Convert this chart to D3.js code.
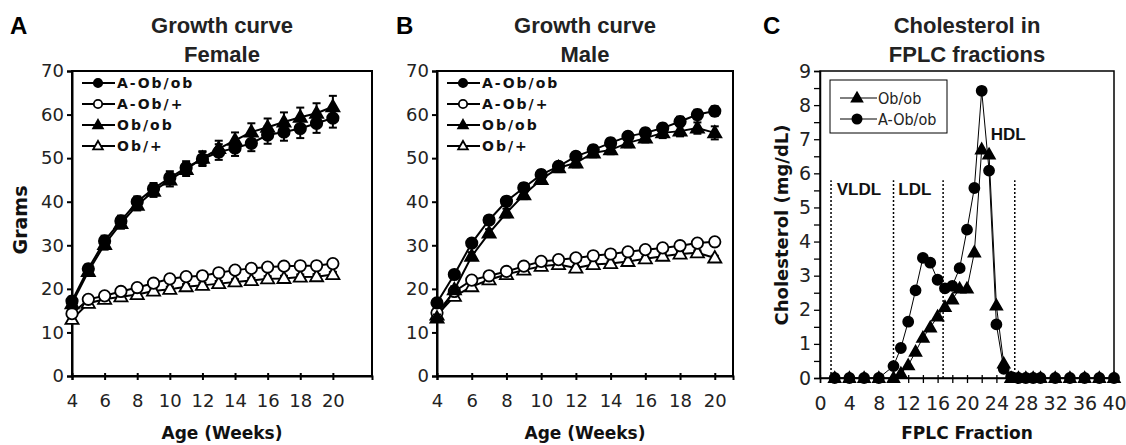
<!DOCTYPE html>
<html><head><meta charset="utf-8">
<script src="https://cdn.jsdelivr.net/npm/d3@7"></script>
<style>body{margin:0;background:#fff}svg{display:block}</style>
</head><body><svg id="c" width="1126" height="445"></svg>
<script>
// ---------- DATA ----------
const weeks = [4,5,6,7,8,9,10,11,12,13,14,15,16,17,18,19,20];
const weekTicks = [4,6,8,10,12,14,16,18,20];
const gramTicks = [0,10,20,30,40,50,60,70];
const growthSeries = ["A-Ob/ob","A-Ob/+","Ob/ob","Ob/+"];

// Female (panel A)
const femaleAObob = [17.2,24.6,31.0,35.6,40.0,43.0,45.5,47.8,49.8,51.4,52.3,53.4,55.3,56.0,56.8,58.0,59.2];
const femaleAObobErr = [1.0,1.0,1.2,1.2,1.2,1.3,1.5,1.5,1.6,1.8,1.8,1.8,2.0,2.0,2.2,2.2,2.2];
const femaleAObp = [14.3,17.6,18.4,19.4,20.3,21.3,22.3,22.8,23.0,23.7,24.3,24.7,25.0,25.2,25.3,25.3,25.8];
const femaleAObpErr = [0.6,0.6,0.6,0.6,0.6,0.6,0.7,0.7,0.7,0.7,0.7,0.7,0.7,0.7,0.7,0.7,0.7];
const femaleObob = [16.6,24.0,30.2,35.0,39.2,42.4,45.0,47.4,50.0,52.2,54.1,56.0,57.1,58.3,59.4,60.3,61.8];
const femaleObobErr = [1.0,1.0,1.2,1.2,1.2,1.3,1.5,1.5,1.6,1.8,1.8,2.0,2.0,2.2,2.2,2.3,2.5];
const femaleObp = [13.0,16.7,17.6,18.2,18.7,19.5,19.9,20.5,20.8,21.2,21.6,21.9,22.3,22.4,22.7,22.8,23.3];
const femaleObpErr = [0.6,0.6,0.6,0.6,0.6,0.6,0.6,0.6,0.6,0.6,0.6,0.6,0.6,0.6,0.6,0.6,0.6];

// Male (panel B)
const maleAObob = [16.8,23.3,30.5,35.8,40.1,43.2,46.2,48.1,50.4,51.9,53.5,55.0,55.8,56.9,58.4,60.0,60.8];
const maleAObobErr = [0.8,0.8,0.9,0.9,1.0,1.0,1.0,1.0,1.0,1.0,1.0,1.0,1.0,1.0,1.1,1.1,1.1];
const maleAObp = [14.5,19.4,22.0,23.0,24.0,25.2,26.3,26.7,27.1,27.6,28.0,28.5,29.0,29.4,29.9,30.5,30.8];
const maleAObpErr = [0.5,0.5,0.5,0.5,0.5,0.5,0.5,0.5,0.5,0.5,0.5,0.5,0.5,0.5,0.5,0.5,0.5];
const maleObob = [13.3,19.8,27.5,32.8,37.4,41.6,45.1,47.8,48.9,51.2,51.9,53.5,54.6,55.8,56.2,56.9,55.8];
const maleObobErr = [0.8,0.8,0.9,0.9,1.0,1.0,1.0,1.0,1.0,1.0,1.0,1.0,1.0,1.2,1.2,1.3,1.5];
const maleObp = [14.0,18.3,20.5,22.1,23.3,24.3,25.2,25.6,24.8,25.6,25.8,26.3,26.9,27.5,28.0,28.3,27.1];
const maleObpErr = [0.5,0.5,0.5,0.5,0.5,0.5,0.5,0.5,0.5,0.5,0.5,0.5,0.5,0.5,0.5,0.5,0.5];

// Cholesterol in FPLC fractions (panel C)
const fractions = [2,4,6,8,10,11,12,13,14,15,16,17,18,19,20,21,22,23,24,25,26,27,28,29,30,32,34,36,38,40];
const cholObob  = [0,0,0,0,0,0.13,0.37,0.77,1.18,1.48,1.80,2.08,2.30,2.62,2.62,3.68,6.70,6.55,2.12,0.42,0,0,0,0,0,0,0,0,0,0];
const cholAObob = [0,0,0,0,0.35,0.88,1.65,2.57,3.52,3.38,2.88,2.63,2.70,3.22,4.35,5.57,8.42,6.08,1.57,0.27,0.03,0,0,0,0,0,0,0,0,0];
const fractionTicks = [0,2,4,6,8,10,12,14,16,18,20,22,24,26,28,30,32,34,36,38,40];
const cholTicks = [0,0.5,1,1.5,2,2.5,3,3.5,4,4.5,5,5.5,6,6.5,7,7.5,8,8.5,9];
const dividers = [1.5,10,16.75,26.5];
const regionLabels = ["VLDL","LDL","HDL"];
const regionX = [5.3,12.9,25.6];
const regionY = [5.36,5.36,6.98];

// ---------- DRAW ----------
const svg = d3.select("#c");
const TICKFONT = "DejaVu Sans, Verdana, sans-serif";
const TITLEFONT = "Liberation Sans, Arial, sans-serif";

function marker(g, type, x, y, size) {
  if (type === "circle" || type === "ocircle") {
    g.append("circle").attr("cx", x).attr("cy", y).attr("r", size)
      .attr("fill", type === "circle" ? "#000" : "#fff").attr("stroke", "#000").attr("stroke-width", 1.8);
  } else {
    const s = size * 1.15, h = s * 1.75;
    const p = `M${x},${y - h*0.6}L${x + s},${y + h*0.4}L${x - s},${y + h*0.4}Z`;
    g.append("path").attr("d", p)
      .attr("fill", type === "tri" ? "#000" : "#fff").attr("stroke", "#000").attr("stroke-width", 1.8);
  }
}

function growthPanel(opt) {
  const g = svg.append("g");
  const x = d3.scaleLinear().domain(opt.xDomain).range([opt.left, opt.right]);
  const y = d3.scaleLinear().domain([0, 70]).range([opt.bottom, opt.top]);

  g.append("rect").attr("x", opt.left).attr("y", opt.top)
    .attr("width", opt.right - opt.left).attr("height", opt.bottom - opt.top)
    .attr("fill", "none").attr("stroke", "#000").attr("stroke-width", 2);

  const ya = g.append("g").attr("transform", `translate(${opt.left},0)`)
    .call(d3.axisLeft(y).tickValues(gramTicks).tickSize(5).tickPadding(3));
  const xa = g.append("g").attr("transform", `translate(0,${opt.bottom})`)
    .call(d3.axisBottom(x).tickValues(weekTicks).tickSize(4).tickPadding(14));
  [ya, xa].forEach(a => {
    a.select(".domain").attr("stroke-width", 2);
    a.selectAll(".tick line").attr("stroke-width", 2);
    a.selectAll("text").attr("font-family", TICKFONT).attr("font-size", 18).attr("fill", "#222");
  });
  xa.selectAll(".tick line").attr("y1", -3);

  const series = [
    {vals: opt.obp, err: opt.obpErr, type: "otri"},
    {vals: opt.aobp, err: opt.aobpErr, type: "ocircle"},
    {vals: opt.obob, err: opt.obobErr, type: "tri"},
    {vals: opt.aobob, err: opt.aobobErr, type: "circle"}
  ];
  const line = d3.line().x((d, i) => x(weeks[i])).y(d => y(d));
  series.forEach(s => {
    g.append("path").attr("d", line(s.vals)).attr("fill", "none")
      .attr("stroke", "#000").attr("stroke-width", 2);
  });
  series.forEach(s => {
    s.vals.forEach((v, i) => {
      const cx = x(weeks[i]);
      const e = s.err[i];
      g.append("line").attr("x1", cx).attr("x2", cx).attr("y1", y(v - e)).attr("y2", y(v + e))
        .attr("stroke", "#000").attr("stroke-width", 2);
      [v - e, v + e].forEach(c => g.append("line").attr("x1", cx - 4).attr("x2", cx + 4)
        .attr("y1", y(c)).attr("y2", y(c)).attr("stroke", "#000").attr("stroke-width", 2));
    });
    s.vals.forEach((v, i) => marker(g, s.type, x(weeks[i]), y(v), 5.7));
  });

  const legTypes = ["circle", "ocircle", "tri", "otri"];
  const legY = [83, 104, 125, 146];
  growthSeries.forEach((name, i) => {
    const ly = legY[i];
    g.append("line").attr("x1", opt.left + 10).attr("x2", opt.left + 43)
      .attr("y1", ly).attr("y2", ly).attr("stroke", "#000").attr("stroke-width", 2);
    marker(g, legTypes[i], opt.left + 26, ly, 4.2);
    g.append("text").attr("x", opt.left + 45).attr("y", ly + 5).text(name)
      .attr("font-family", TICKFONT).attr("font-weight", "bold").attr("font-size", 14)
      .attr("letter-spacing", 2).attr("fill", "#111");
  });

  const cx = (opt.left + opt.right) / 2;
  g.append("text").attr("x", opt.letterX).attr("y", 34).text(opt.letter)
    .attr("font-family", TITLEFONT).attr("font-weight", "bold").attr("font-size", 24);
  g.append("text").attr("x", cx).attr("y", 33).attr("text-anchor", "middle").text("Growth curve")
    .attr("font-family", TITLEFONT).attr("font-weight", "bold").attr("font-size", 22).attr("fill", "#222");
  g.append("text").attr("x", cx).attr("y", 62).attr("text-anchor", "middle").text(opt.sub)
    .attr("font-family", TITLEFONT).attr("font-weight", "bold").attr("font-size", 22).attr("fill", "#222");
  g.append("text").attr("x", cx).attr("y", 439).attr("text-anchor", "middle").text("Age (Weeks)")
    .attr("font-family", TICKFONT).attr("font-weight", "bold").attr("font-size", 17).attr("fill", "#111");
  if (opt.yLabel) {
    g.append("text").attr("transform", `translate(27,220) rotate(-90)`).attr("text-anchor", "middle")
      .text(opt.yLabel).attr("font-family", TICKFONT).attr("font-weight", "bold").attr("font-size", 19).attr("fill", "#111");
  }
}

growthPanel({left: 72, right: 372, top: 71, bottom: 376, xDomain: [4, 22.4],
  aobob: femaleAObob, aobobErr: femaleAObobErr, aobp: femaleAObp, aobpErr: femaleAObpErr,
  obob: femaleObob, obobErr: femaleObobErr, obp: femaleObp, obpErr: femaleObpErr,
  letter: "A", letterX: 10, sub: "Female", yLabel: "Grams"});
growthPanel({left: 437, right: 733, top: 71, bottom: 376, xDomain: [4, 21.05],
  aobob: maleAObob, aobobErr: maleAObobErr, aobp: maleAObp, aobpErr: maleAObpErr,
  obob: maleObob, obobErr: maleObobErr, obp: maleObp, obpErr: maleObpErr,
  letter: "B", letterX: 396, sub: "Male", yLabel: null});

// Panel C
(function() {
  const left = 820, right = 1114, top = 71, bottom = 378;
  const g = svg.append("g");
  const x = d3.scaleLinear().domain([0, 40]).range([left, right]);
  const y = d3.scaleLinear().domain([0, 9]).range([bottom, top]);
  g.append("rect").attr("x", left).attr("y", top).attr("width", right - left).attr("height", bottom - top)
    .attr("fill", "none").attr("stroke", "#000").attr("stroke-width", 1.5);
  const ya = g.append("g").attr("transform", `translate(${left},0)`)
    .call(d3.axisLeft(y).tickValues(cholTicks).tickSize(6).tickPadding(3)
      .tickFormat(d => Number.isInteger(d) ? d : ""));
  const xa = g.append("g").attr("transform", `translate(0,${bottom})`)
    .call(d3.axisBottom(x).tickValues(fractionTicks).tickSize(5).tickPadding(14)
      .tickFormat(d => d % 4 === 0 ? d : ""));
  [ya, xa].forEach(a => {
    a.select(".domain").attr("stroke-width", 1.5);
    a.selectAll(".tick line").attr("stroke-width", 1.3);
    a.selectAll("text").attr("font-family", TICKFONT).attr("font-size", 19).attr("fill", "#222");
  });
  xa.selectAll(".tick line").attr("y1", -3);

  dividers.forEach(d => g.append("line").attr("x1", x(d)).attr("x2", x(d))
    .attr("y1", y(0)).attr("y2", y(5.8)).attr("stroke", "#000").attr("stroke-width", 1.5)
    .attr("stroke-dasharray", "2,2"));
  regionLabels.forEach((t, i) => g.append("text").attr("x", x(regionX[i])).attr("y", y(regionY[i]))
    .attr("text-anchor", "middle").text(t).attr("font-family", TITLEFONT).attr("font-weight", "bold")
    .attr("font-size", 17).attr("fill", "#111"));

  const line = d3.line().x((d, i) => x(fractions[i])).y(d => y(d));
  g.append("path").attr("d", line(cholAObob)).attr("fill", "none").attr("stroke", "#000").attr("stroke-width", 1);
  g.append("path").attr("d", line(cholObob)).attr("fill", "none").attr("stroke", "#000").attr("stroke-width", 1);
  cholAObob.forEach((v, i) => marker(g, "circle", x(fractions[i]), y(v), 5));
  cholObob.forEach((v, i) => marker(g, "tri", x(fractions[i]), y(v), 5));

  g.append("rect").attr("x", 830).attr("y", 80).attr("width", 117).attr("height", 53)
    .attr("fill", "#fff").attr("stroke", "#000").attr("stroke-width", 1);
  const leg = [["Ob/ob", "tri", 98], ["A-Ob/ob", "circle", 119]];
  leg.forEach(([name, t, ly]) => {
    g.append("line").attr("x1", 840).attr("x2", 877).attr("y1", ly).attr("y2", ly)
      .attr("stroke", "#000").attr("stroke-width", 1);
    marker(g, t, 857, ly, 4.6);
    g.append("text").attr("x", 878).attr("y", ly + 6).text(name)
      .attr("font-family", "DejaVu Sans Condensed, Liberation Sans, sans-serif").attr("font-size", 16).attr("fill", "#222");
  });

  const cx = (left + right) / 2;
  g.append("text").attr("x", 763).attr("y", 34).text("C")
    .attr("font-family", TITLEFONT).attr("font-weight", "bold").attr("font-size", 24);
  g.append("text").attr("x", cx).attr("y", 33).attr("text-anchor", "middle").text("Cholesterol in")
    .attr("font-family", TITLEFONT).attr("font-weight", "bold").attr("font-size", 22).attr("fill", "#222");
  g.append("text").attr("x", cx).attr("y", 62).attr("text-anchor", "middle").text("FPLC fractions")
    .attr("font-family", TITLEFONT).attr("font-weight", "bold").attr("font-size", 22).attr("fill", "#222");
  g.append("text").attr("x", 967).attr("y", 439).attr("text-anchor", "middle").text("FPLC Fraction")
    .attr("font-family", TICKFONT).attr("font-weight", "bold").attr("font-size", 17).attr("fill", "#111");
  g.append("text").attr("transform", `translate(788,225) rotate(-90)`).attr("text-anchor", "middle")
    .text("Cholesterol (mg/dL)").attr("font-family", TICKFONT).attr("font-weight", "bold")
    .attr("font-size", 18).attr("fill", "#111");
})();
</script></body></html>
